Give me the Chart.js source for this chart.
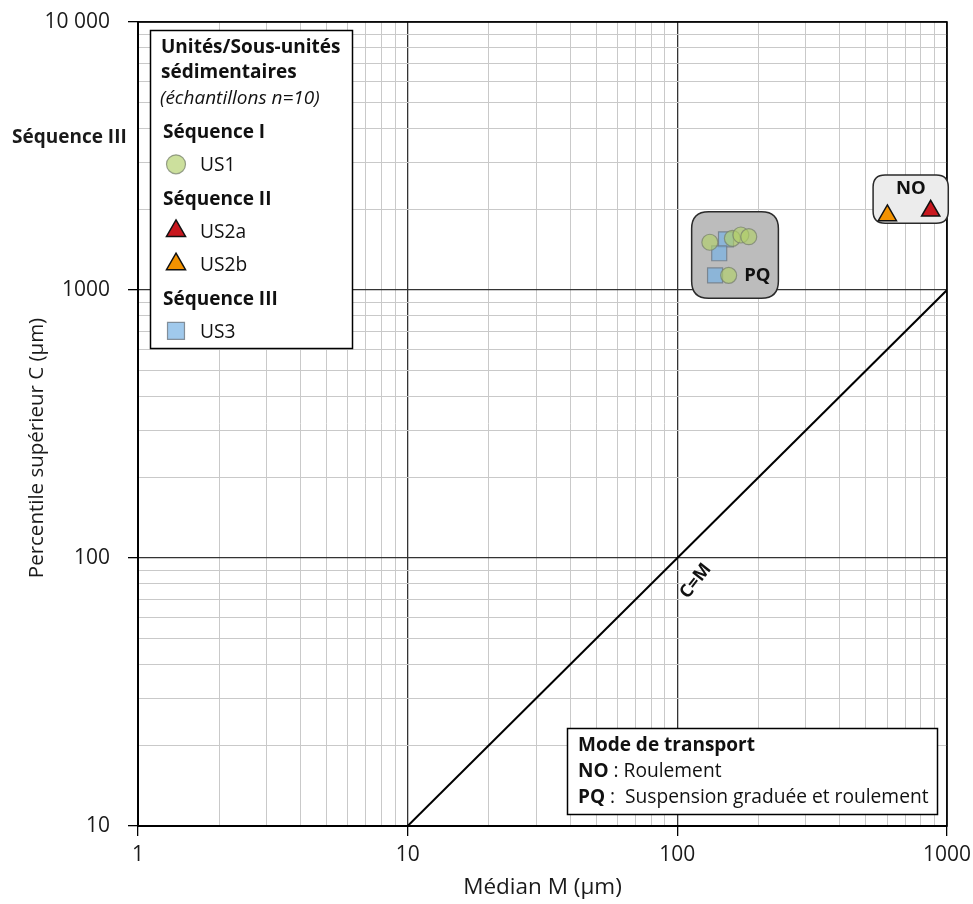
<!DOCTYPE html>
<html lang="fr">
<head>
<meta charset="utf-8">
<title>Diagramme C/M</title>
<script src="https://cdn.jsdelivr.net/npm/chart.js@4.4.1/dist/chart.umd.min.js"></script>
<style>
  html, body { margin: 0; padding: 0; background: #fff; }
  #cmChart { display: block; }
</style>
</head>
<body>
<canvas id="cmChart" width="973" height="904"></canvas>
<script>
// Médian M (µm) et percentile supérieur C (µm) par échantillon
const us1M = [132, 160, 172, 184, 155];
const us1C = [1507, 1559, 1604, 1581, 1134];
const us2aM = [870];
const us2aC = [1975];
const us2bM = [601];
const us2bC = [1897];
const us3M = [151.5, 143, 138];
const us3C = [1546, 1371, 1134];

// droite C=M
const lineM = [10, 1000];
const lineC = [10, 1000];

// graduations
const xMajor = [1, 10, 100, 1000];
const xLabels = ["1", "10", "100", "1000"];
const yMajor = [10, 100, 1000, 10000];
const yLabels = ["10", "100", "1000", "10 000"];

// zones de transport (M min/max, C min/max)
const zoneNames = ["PQ", "NO"];
const zoneM = [[113, 237], [532, 1011]];
const zoneC = [[931, 1960], [1774, 2686]];
const zoneLabelAt = [[198, 1128], [734, 2396]];

// légende
const legendTitle = ["Unités/Sous-unités", "sédimentaires"];
const legendNote = "(échantillons n=10)";
const sequences = ["Séquence I", "Séquence II", "Séquence III"];
const sequenceUnits = [["US1"], ["US2a", "US2b"], ["US3"]];

const modeCodes = ["NO", "PQ"];
const modeLabels = ["Roulement", "Suspension graduée et roulement"];

const F = "'Open Sans', 'Noto Sans', sans-serif";
Chart.defaults.font.family = F;

const markers = {
  US1: { pointStyle: "circle", radius: 8, bg: "rgba(176, 208, 104, 0.65)", border: "rgba(120, 130, 110, 0.75)", bw: 1.2 },
  US2a: { pointStyle: "triangle", radius: 10.5, bg: "#c8171e", border: "#111", bw: 1.5 },
  US2b: { pointStyle: "triangle", radius: 10.5, bg: "#f39200", border: "#111", bw: 1.5 },
  US3: { pointStyle: "rect", radius: 10.6, bg: "rgba(120, 178, 228, 0.7)", border: "rgba(110, 120, 130, 0.8)", bw: 1.2 },
};

const toPoints = (ms, cs) => ms.map((m, i) => ({ x: m, y: cs[i] }));
const minorOf = (majors) =>
  majors.slice(0, -1).flatMap((m) => [2, 3, 4, 5, 6, 7, 8, 9].map((k) => k * m));
const buildTicks = (majors) =>
  majors
    .concat(minorOf(majors))
    .sort((a, b) => a - b)
    .map((v) => ({ value: v, major: majors.includes(v) }));

const gridColor = (c) => (c.tick && c.tick.major ? "#333" : "#c9c9c9");
const gridWidth = (c) => (c.tick && c.tick.major ? 1.3 : 1);
const tickColor = (c) => (c.tick && c.tick.major ? "#000" : "rgba(0,0,0,0)");

const seriesDataset = (name, ms, cs) => {
  const s = markers[name];
  return {
    label: name,
    data: toPoints(ms, cs),
    pointStyle: s.pointStyle,
    pointRadius: s.radius,
    pointBackgroundColor: s.bg,
    pointBorderColor: s.border,
    pointBorderWidth: s.bw,
    showLine: false,
  };
};

function roundRect(ctx, x, y, w, h, r) {
  ctx.beginPath();
  ctx.moveTo(x + r, y);
  ctx.lineTo(x + w - r, y);
  ctx.quadraticCurveTo(x + w, y, x + w, y + r);
  ctx.lineTo(x + w, y + h - r);
  ctx.quadraticCurveTo(x + w, y + h, x + w - r, y + h);
  ctx.lineTo(x + r, y + h);
  ctx.quadraticCurveTo(x, y + h, x, y + h - r);
  ctx.lineTo(x, y + r);
  ctx.quadraticCurveTo(x, y, x + r, y);
  ctx.closePath();
}

function drawMarker(ctx, name, x, y, r) {
  const s = markers[name];
  ctx.save();
  ctx.fillStyle = s.bg;
  ctx.strokeStyle = s.border;
  ctx.lineWidth = s.bw;
  ctx.beginPath();
  if (s.pointStyle === "circle") {
    ctx.arc(x, y, r, 0, Math.PI * 2);
  } else if (s.pointStyle === "triangle") {
    ctx.moveTo(x, y - r);
    ctx.lineTo(x + r * 0.866, y + r / 2);
    ctx.lineTo(x - r * 0.866, y + r / 2);
    ctx.closePath();
  } else {
    const h = r * 0.707;
    ctx.rect(x - h, y - h, h * 2, h * 2);
  }
  ctx.fill();
  ctx.stroke();
  ctx.restore();
}

const decorPlugin = {
  id: "decor",
  beforeDatasetsDraw(chart) {
    const { ctx, chartArea: a, scales: { x, y } } = chart;
    ctx.save();
    ctx.strokeStyle = "#000";
    ctx.lineWidth = 1.6;
    ctx.strokeRect(a.left, a.top, a.right - a.left, a.bottom - a.top);

    const fills = ["#bcbcbc", "#ececec"];
    const radii = [17, 12];
    zoneNames.forEach((name, i) => {
      const x0 = x.getPixelForValue(zoneM[i][0]);
      const x1 = x.getPixelForValue(zoneM[i][1]);
      const y0 = y.getPixelForValue(zoneC[i][1]);
      const y1 = y.getPixelForValue(zoneC[i][0]);
      roundRect(ctx, x0, y0, x1 - x0, y1 - y0, radii[i]);
      ctx.fillStyle = fills[i];
      ctx.fill();
      ctx.lineWidth = 1.5;
      ctx.strokeStyle = "#2a2a2a";
      ctx.stroke();
    });
    ctx.restore();
  },
  afterDatasetsDraw(chart) {
    const { ctx, scales: { x, y } } = chart;
    ctx.save();
    ctx.fillStyle = "#111";
    ctx.font = `bold 18.5px ${F}`;
    ctx.textAlign = "center";
    ctx.textBaseline = "middle";
    zoneNames.forEach((name, i) => {
      ctx.fillText(name, x.getPixelForValue(zoneLabelAt[i][0]), y.getPixelForValue(zoneLabelAt[i][1]));
    });

    // étiquette de la droite C=M
    ctx.translate(x.getPixelForValue(117), y.getPixelForValue(82));
    ctx.rotate(-52 * Math.PI / 180);
    ctx.font = `bold 18px ${F}`;
    ctx.fillText("C=M", 0, 0);
    ctx.restore();
  },
  afterDraw(chart) {
    const { ctx } = chart;
    ctx.save();
    ctx.fillStyle = "#1a1a1a";

    // titre de l'axe vertical
    ctx.save();
    ctx.translate(37, 448);
    ctx.rotate(-Math.PI / 2);
    ctx.font = `20.5px ${F}`;
    ctx.textAlign = "center";
    ctx.textBaseline = "middle";
    ctx.fillText("Percentile supérieur C (µm)", 0, 0);
    ctx.restore();

    ctx.textAlign = "left";
    ctx.textBaseline = "alphabetic";
    ctx.font = `bold 19px ${F}`;
    ctx.fillText("Séquence III", 12, 143);

    // légende des unités
    ctx.fillStyle = "#fff";
    ctx.fillRect(150, 30, 202, 318);
    ctx.strokeStyle = "#000";
    ctx.lineWidth = 1.5;
    ctx.strokeRect(150.5, 30.5, 202, 318);
    ctx.fillStyle = "#111";
    ctx.font = `bold 19px ${F}`;
    ctx.fillText(legendTitle[0], 161, 53);
    ctx.fillText(legendTitle[1], 161, 78);
    ctx.font = `italic 19px ${F}`;
    ctx.fillText(legendNote, 160, 104);
    let rowY = 131;
    sequences.forEach((seq, i) => {
      ctx.fillStyle = "#111";
      ctx.font = `bold 19px ${F}`;
      ctx.fillText(seq, 163, rowY + 7);
      rowY += 33.3;
      sequenceUnits[i].forEach((u) => {
        const r = markers[u].pointStyle === "circle" ? 9.5 : markers[u].pointStyle === "rect" ? 12 : 11;
        drawMarker(ctx, u, 176, rowY, r);
        ctx.fillStyle = "#111";
        ctx.font = `19.2px ${F}`;
        ctx.fillText(u, 200, rowY + 7);
        rowY += 33.3;
      });
    });

    // mode de transport
    ctx.fillStyle = "#fff";
    ctx.fillRect(567, 728, 370, 86);
    ctx.strokeStyle = "#000";
    ctx.lineWidth = 1.5;
    ctx.strokeRect(567.5, 728.5, 370, 86);
    ctx.fillStyle = "#111";
    ctx.font = `bold 19px ${F}`;
    ctx.fillText("Mode de transport", 578, 751);
    const seps = [" : ", " :  "];
    modeCodes.forEach((code, i) => {
      const by = 777 + i * 25.5;
      ctx.font = `bold 19px ${F}`;
      ctx.fillText(code, 578, by);
      const w = ctx.measureText(code).width;
      ctx.font = `19.2px ${F}`;
      ctx.fillText(seps[i] + modeLabels[i], 578 + w, by);
    });
    ctx.restore();
  },
};

const ctx = document.getElementById("cmChart").getContext("2d");
const cmChart = new Chart(ctx, {
  type: "scatter",
  data: {
    datasets: [
      seriesDataset("US1", us1M, us1C),
      seriesDataset("US3", us3M, us3C),
      seriesDataset("US2a", us2aM, us2aC),
      seriesDataset("US2b", us2bM, us2bC),
      {
        label: "C=M",
        data: toPoints(lineM, lineC),
        showLine: true,
        borderColor: "#000",
        borderWidth: 2,
        pointRadius: 0,
      },
    ],
  },
  options: {
    responsive: false,
    animation: false,
    layout: { padding: { top: 22, right: 26, left: 0, bottom: 0 } },
    plugins: {
      legend: { display: false },
      tooltip: { enabled: false },
    },
    scales: {
      x: {
        type: "logarithmic",
        min: 1,
        max: 1000,
        afterBuildTicks: (s) => {
          s.ticks = buildTicks(xMajor);
        },
        afterFit: (s) => {
          s.height = 78;
          s.paddingLeft = 0;
          s.paddingRight = 0;
        },
        ticks: {
          autoSkip: false,
          maxRotation: 0,
          padding: 6,
          color: "#1a1a1a",
          font: { size: 21 },
          callback: (v) => {
            const i = xMajor.indexOf(v);
            return i >= 0 ? xLabels[i] : "";
          },
        },
        grid: { color: gridColor, lineWidth: gridWidth, tickLength: 10, tickColor: tickColor },
        border: { color: "#000", width: 2 },
        title: {
          display: true,
          text: "Médian M (µm)",
          color: "#1a1a1a",
          font: { size: 22.5 },
          padding: { top: 0, bottom: 3 },
        },
      },
      y: {
        type: "logarithmic",
        min: 10,
        max: 10000,
        afterBuildTicks: (s) => {
          s.ticks = buildTicks(yMajor);
        },
        afterFit: (s) => {
          s.width = 138;
          s.paddingTop = 0;
          s.paddingBottom = 0;
        },
        ticks: {
          autoSkip: false,
          padding: 18,
          color: "#1a1a1a",
          font: { size: 21 },
          callback: (v) => {
            const i = yMajor.indexOf(v);
            return i >= 0 ? yLabels[i] : "";
          },
        },
        grid: { color: gridColor, lineWidth: gridWidth, tickLength: 10, tickColor: tickColor },
        border: { color: "#000", width: 2 },
      },
    },
  },
  plugins: [decorPlugin],
});
</script>
</body>
</html>
